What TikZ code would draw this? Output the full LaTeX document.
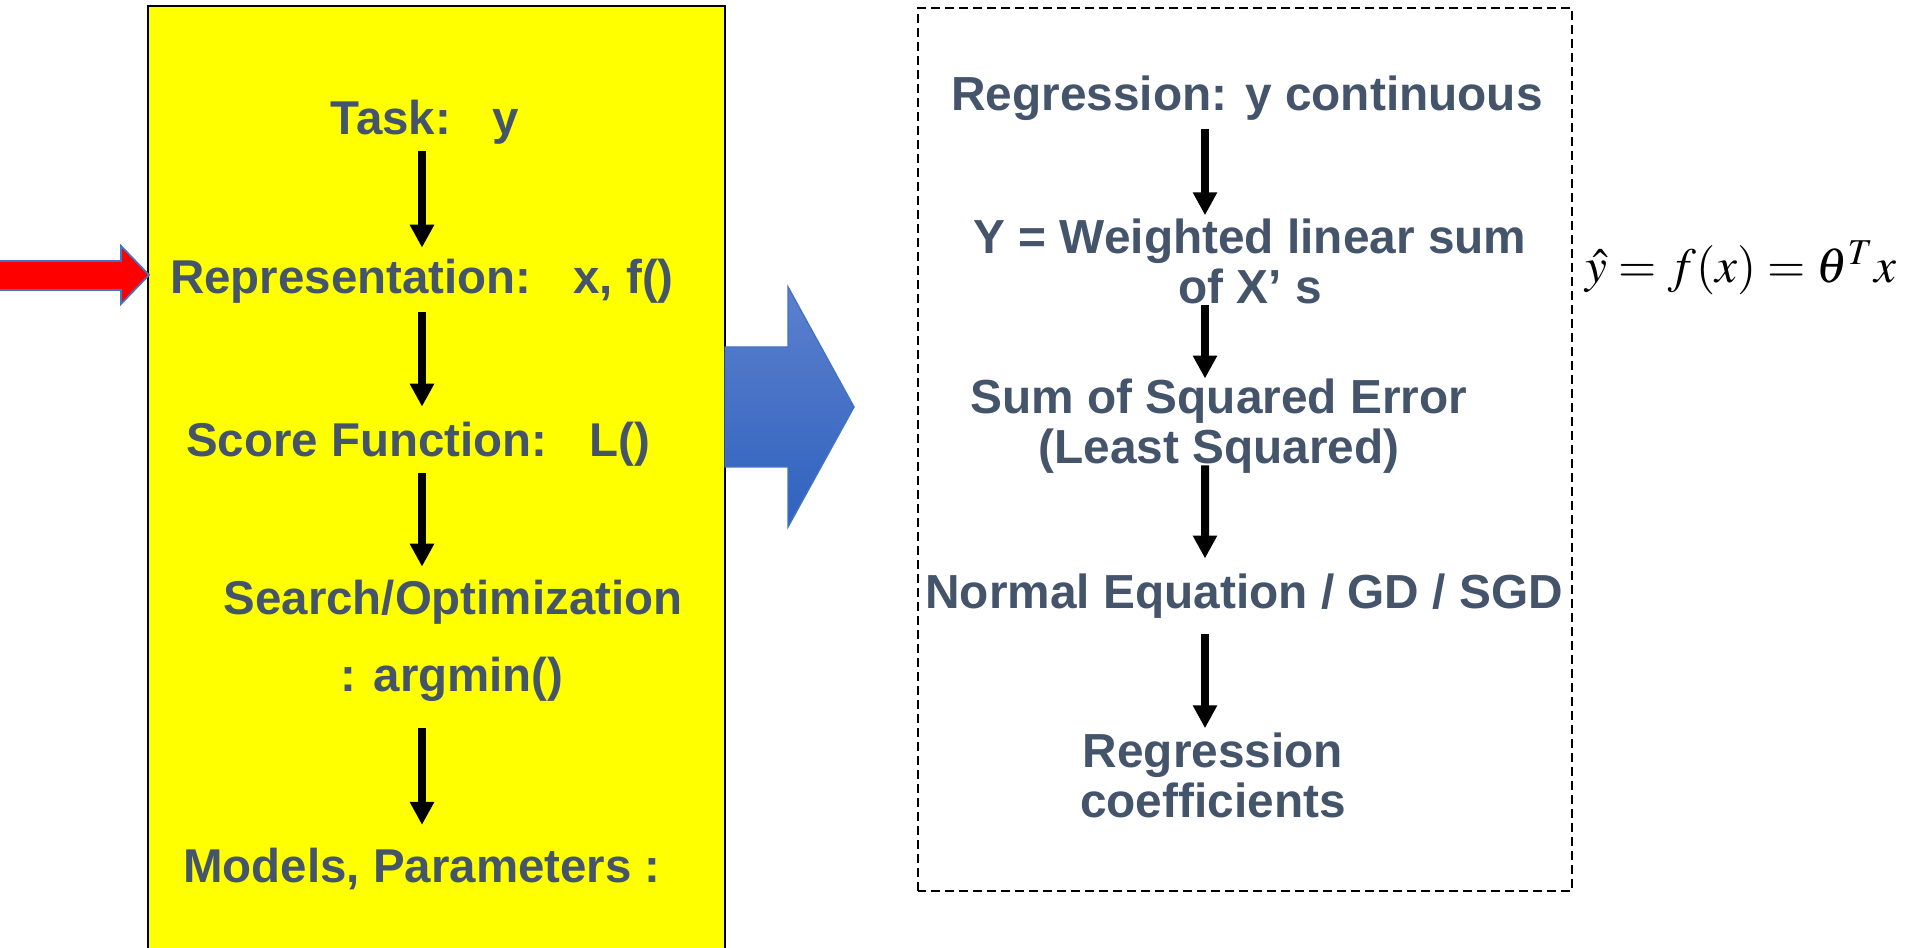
\documentclass[tikz,border=0pt]{standalone}
\usepackage{mathptmx}
\usepackage[no-math]{fontspec}
\setmainfont{Liberation Sans}
\usepackage{tikz}
\usetikzlibrary{arrows.meta,positioning,calc}
\definecolor{slate}{HTML}{44546A}
\definecolor{edgeblue}{HTML}{4472C4}
\definecolor{boardyellow}{HTML}{FFFF00}
\definecolor{shadetop}{RGB}{92,128,206}
\definecolor{shadebot}{RGB}{47,98,190}

\begin{document}
\begin{tikzpicture}[
  x=1cm,y=1cm,
  board/.style={draw=black, fill=boardyellow, line width=0.7pt},
  frame/.style={draw=black, line width=0.45pt, dash pattern=on 0.09cm off 0.05cm},
  lefttext/.style={font=\bfseries\fontsize{13.5}{16}\selectfont, text=slate, inner sep=0pt},
  righttext/.style={font=\bfseries\fontsize{13.6}{14.2}\selectfont, text=slate, inner sep=0pt, align=center},
  flow/.style={-{Triangle[length=0.23cm,width=0.23cm]}, line width=0.08cm},
  redarrow/.style={fill=red, draw=edgeblue, line width=0.5pt},
  bluearrow/.style={top color=shadetop, bottom color=shadebot, draw=edgeblue, line width=0.4pt}
]
  \useasboundingbox (0,0) rectangle (19.05,9.48);

  % left panel
  \draw[board] (1.48,-0.2) rectangle (7.25,9.42);
  \draw[redarrow] (-0.1,6.87) -- (1.21,6.87) -- (1.21,7.02) -- (1.49,6.73)
    -- (1.21,6.44) -- (1.21,6.58) -- (-0.1,6.58) -- cycle;

  \node[lefttext] (task) at (4.25,8.255) {Task:\hspace{0.42cm}y};
  \node[lefttext] (repr) at (4.22,6.665) {Representation:\hspace{0.42cm}x, f()};
  \node[lefttext] (score) at (4.18,5.035) {Score Function:\hspace{0.42cm}L()};
  \node[lefttext] (search) at (4.53,3.455) {Search/Optimization};
  \node[lefttext] (argmin) at (4.52,2.685) {: argmin()};
  \node[lefttext] (models) at (4.22,0.795) {Models, Parameters :};

  \draw[flow, shorten <=0.06cm, shorten >=0.11cm] (task.south -| repr) -- (repr.north);
  \draw[flow, shorten <=0.08cm, shorten >=0.15cm] (repr.south) -- (repr.south |- score.north);
  \draw[flow, shorten <=0.06cm, shorten >=0.13cm] (score.south -| repr) -- (search.north -| repr);
  \draw[flow, shorten <=0.26cm, shorten >=0.22cm] (argmin.south -| models) -- (models.north);

  % block arrow between panels
  \draw[bluearrow] (7.25,6.01) -- (7.88,6.01) -- (7.88,6.61) -- (8.54,5.41)
    -- (7.88,4.21) -- (7.88,4.81) -- (7.25,4.81) -- cycle;

  % right panel
  \draw[frame] (9.18,0.57) rectangle (15.72,9.40);

  \node[righttext] (goal) at (12.47,8.495) {Regression: y continuous};
  \node[righttext] (wsum) at (12.50,6.865) {Y = Weighted linear sum\\of X’ s};
  \node[righttext] (sse) at (12.19,5.215) {Sum of Squared Error\\(Least Squared)};
  \node[righttext] (solver) at (12.44,3.515) {Normal Equation / GD / SGD};
  \node[righttext] (coef) at (12.13,1.725) {Regression\\coefficients};

  \draw[flow, shorten <=0.07cm, shorten >=0.03cm] ([xshift=-0.42cm]goal.south) -- ([xshift=-0.45cm]wsum.north);
  \draw[flow, shorten <=0cm, shorten >=0cm] ([xshift=-0.45cm]wsum.south) -- ([xshift=-0.14cm]sse.north);
  \draw[flow, shorten <=-0.09cm, shorten >=0.15cm] ([xshift=-0.14cm]sse.south) -- ([xshift=-0.39cm]solver.north);
  \draw[flow, shorten <=0.15cm, shorten >=0.04cm] ([xshift=-0.39cm]solver.south) -- ([xshift=-0.08cm]coef.north);

  % model formula
  \node[font=\fontsize{14}{17}\selectfont] (model) at (17.41,6.80) {$\hat{y}=f(x)=\theta^{T}x$};
\end{tikzpicture}
\end{document}
